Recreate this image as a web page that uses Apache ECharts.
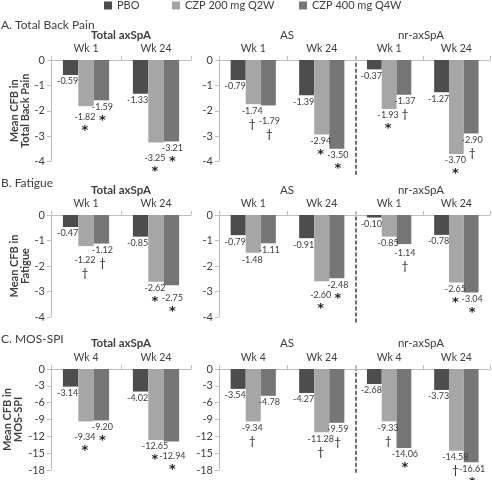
<!DOCTYPE html>
<html><head><meta charset="utf-8">
<script src="https://cdn.jsdelivr.net/npm/echarts@6/dist/echarts.min.js"></script>
<style>html,body{margin:0;padding:0;background:#fff}#c{width:492px;height:480px}</style>
</head><body><div id="c"></div>
<script>
// ---------- DATA ----------
const seriesNames = ['PBO', 'CZP 200 mg Q2W', 'CZP 400 mg Q4W'];
const rowTitles = ['A. Total Back Pain', 'B. Fatigue', 'C. MOS-SPI'];
const yAxisNames = ['Mean CFB in\nTotal Back Pain', 'Mean CFB in\nFatigue', 'Mean CFB in\nMOS-SPI'];
const groupTitles = ['Total axSpA', 'AS', 'nr-axSpA'];
const weeksPain = ['Wk 1', 'Wk 24'];
const weeksFatigue = ['Wk 1', 'Wk 24'];
const weeksMos = ['Wk 4', 'Wk 24'];
const yTicksPain = [0, -1, -2, -3, -4];
const yTicksFatigue = [0, -1, -2, -3, -4];
const yTicksMos = [0, -3, -6, -9, -12, -15, -18];

// order: Total (wk a, wk 24), AS (wk a, wk 24), nr-axSpA (wk a, wk 24)
const painPBO    = [-0.59, -1.33, -0.79, -1.39, -0.37, -1.27];
const pain200    = [-1.82, -3.25, -1.74, -2.94, -1.93, -3.70];
const pain400    = [-1.59, -3.21, -1.79, -3.50, -1.37, -2.90];
const pain200Sig = ['*', '*', '†', '*', '*', '*'];
const pain400Sig = ['*', '*', '†', '*', '†', '†'];

const fatiguePBO    = [-0.47, -0.85, -0.79, -0.91, -0.10, -0.78];
const fatigue200    = [-1.22, -2.62, -1.48, -2.60, -0.85, -2.65];
const fatigue400    = [-1.12, -2.75, -1.11, -2.48, -1.14, -3.04];
const fatigue200Sig = ['†', '*', '', '*', '', '*'];
const fatigue400Sig = ['†', '*', '', '*', '†', '*'];

const mosPBO    = [-3.14, -4.02, -3.54, -4.27, -2.68, -3.73];
const mos200    = [-9.34, -12.65, -9.34, -11.28, -9.33, -14.58];
const mos400    = [-9.20, -12.94, -4.78, -9.59, -14.06, -16.61];
const mos200Sig = ['*', '*', '†', '†', '†', '†'];
const mos400Sig = ['*', '*', '', '†', '*', '*'];

// ---------- LAYOUT / STYLE ----------
const FONT = 'Lato, "Liberation Sans", sans-serif';
const TXT = '#404040';
const colors = ['#4d4d4d', '#a6a6a6', '#767676'];
const rows = [
  {top: 60, h: 101.5, nrExt: 4.5, titleY: 26, groupY: 35, weeks: weeksPain, ticks: yTicksPain,
   vals: [painPBO, pain200, pain400], sig: [null, pain200Sig, pain400Sig]},
  {top: 215, h: 102, nrExt: 4.2, titleY: 184, groupY: 190, weeks: weeksFatigue, ticks: yTicksFatigue,
   vals: [fatiguePBO, fatigue200, fatigue400], sig: [null, fatigue200Sig, fatigue400Sig]},
  {top: 369, h: 101, nrExt: 18.4, titleY: 340, groupY: 343.5, weeks: weeksMos, ticks: yTicksMos,
   vals: [mosPBO, mos200, mos400], sig: [null, mos200Sig, mos400Sig]}
];
const cols = [{left: 51, width: 140, cx: 121, bold: true},
              {left: 219, width: 137, cx: 287, bold: false},
              {left: 355.5, width: 134.5, cx: 421, bold: false}];

const grid = [], xAxis = [], yAxis = [], series = [], graphic = [];

function sigTag(s) {
  if (!s) return '';
  return '\n{' + (s === '*' ? 'a' : 'd') + '|' + s + '}';
}

rows.forEach((row, r) => {
  const yMin = row.ticks[row.ticks.length - 1];
  const interval = row.ticks[0] - row.ticks[1];
  const ppu = row.h / (-yMin);
  graphic.push({type: 'text', left: 1, top: row.titleY - 7,
    style: {text: rowTitles[r], font: '12px ' + FONT, fill: TXT}});
  cols.forEach((col, g) => {
    const gi = r * 3 + g;
    const isNr = g === 2;
    const gMin = isNr ? -row.nrExt : yMin;
    const h = isNr ? ppu * row.nrExt : row.h;
    grid.push({left: col.left, top: row.top, width: col.width, height: h});
    graphic.push({type: 'text', x: col.cx, y: row.groupY, style: {
      text: groupTitles[g], align: 'center', verticalAlign: 'middle',
      font: (col.bold ? 'bold ' : '') + '11.5px ' + FONT, fill: TXT}});
    xAxis.push({type: 'category', gridIndex: gi, data: row.weeks, position: 'top',
      axisLine: {onZero: false, lineStyle: {color: '#bfbfbf', width: 1}},
      axisTick: {show: true, length: 4, lineStyle: {color: '#bfbfbf'}},
      axisLabel: {color: TXT, fontSize: 10.5, fontFamily: FONT, margin: 6},
      splitLine: {show: false}});
    const ya = {type: 'value', gridIndex: gi, min: gMin, max: 0,
      splitLine: {show: false}};
    if (isNr) {
      ya.axisLine = {show: true, lineStyle: {color: '#404040', type: [3, 3], width: 1.5}};
      ya.axisTick = {show: false};
      ya.axisLabel = {show: false};
    } else {
      ya.interval = interval;
      ya.axisLine = {show: true, lineStyle: {color: '#bfbfbf', width: 1}};
      ya.axisTick = {show: true, length: 4, lineStyle: {color: '#bfbfbf'}};
      ya.axisLabel = {color: TXT, fontSize: 11, fontFamily: FONT, margin: 6};
      if (g === 0) {
        ya.name = yAxisNames[r];
        ya.nameLocation = 'middle';
        ya.nameRotate = 90;
        ya.nameGap = 20;
        ya.nameTextStyle = {fontWeight: 'bold', fontSize: 11, color: TXT, fontFamily: FONT, lineHeight: 11};
      }
    }
    yAxis.push(ya);
    [0, 1, 2].forEach(k => {
      const vals = row.vals[k].slice(2 * g, 2 * g + 2);
      const sig = row.sig[k] ? row.sig[k].slice(2 * g, 2 * g + 2) : ['', ''];
      series.push({
        type: 'bar', name: seriesNames[k], xAxisIndex: gi, yAxisIndex: gi,
        data: vals, barGap: '0%', barCategoryGap: '34%',
        itemStyle: {color: colors[k]},
        label: {show: true, position: 'bottom', distance: 1,
          formatter: p => '{v|' + p.value.toFixed(2) + '}' + sigTag(sig[p.dataIndex]),
          rich: {v: {fontSize: 9, color: TXT, fontFamily: FONT, lineHeight: 11},
                 a: {fontSize: 13, fontWeight: 'bold', color: '#262626', fontFamily: '"DejaVu Sans", sans-serif', lineHeight: 13, padding: [3, 0, 0, 0]},
                 d: {fontSize: 12, color: '#262626', fontFamily: FONT, lineHeight: 14, padding: [1, 0, 0, 0]}}},
        labelLayout: (p) => {
          const i = p.dataIndex;
          let dx = [-3, -1, 1][k], dy = 0;
          if (k > 0) {
            const a = row.vals[1][2 * g + i], b = row.vals[2][2 * g + i];
            const diff = Math.abs(a - b) * ppu;
            const deeper = a < b ? 1 : 2;
            if (k === deeper && diff < 10) dy = 10 - diff;
          }
          return {dx: dx, dy: dy};
        },
        emphasis: {disabled: true}, animation: false
      });
    });
  });
});

const legendX = [104, 172, 299];
const legend = seriesNames.map((n, k) => ({
  data: [n], left: legendX[k], top: 0, padding: 0, itemWidth: 8, itemHeight: 8,
  icon: 'rect', itemGap: 0,
  textStyle: {color: TXT, fontSize: 11, fontFamily: FONT}
}));

const chart = echarts.init(document.getElementById('c'), null, {renderer: 'canvas'});
chart.setOption({animation: false, backgroundColor: '#fff', color: colors,
  legend, grid, xAxis, yAxis, series, graphic});
</script></body></html>
